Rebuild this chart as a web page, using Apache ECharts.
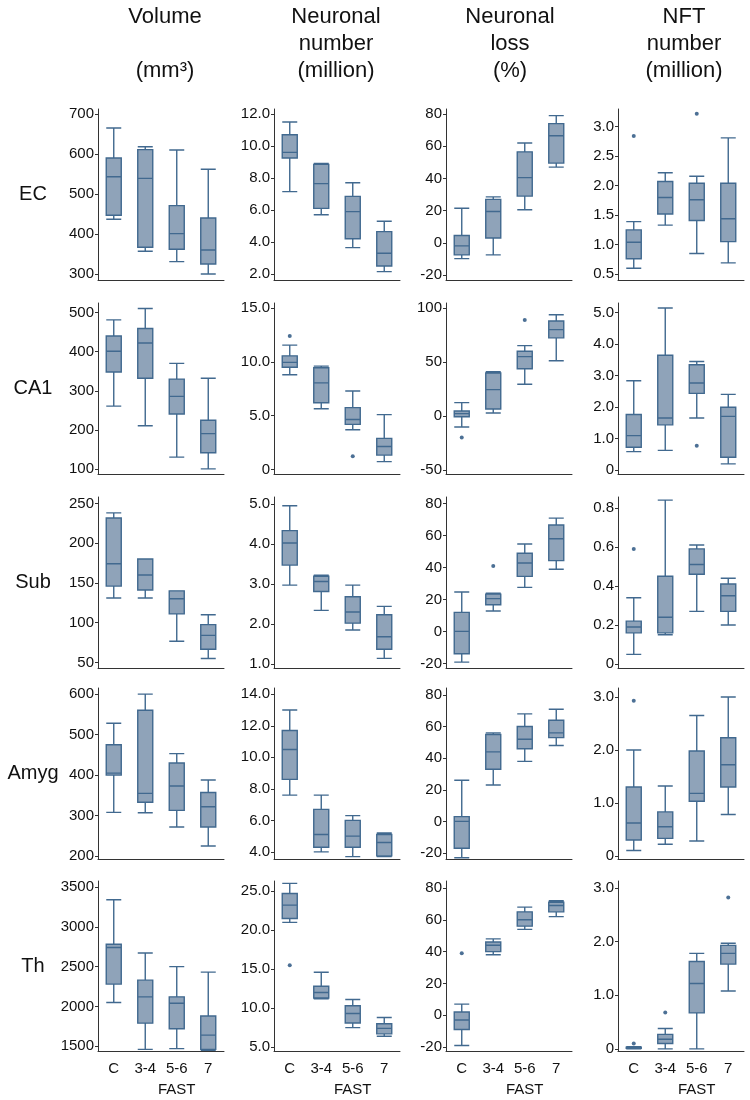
<!DOCTYPE html>
<html><head><meta charset="utf-8">
<script src="https://cdn.jsdelivr.net/npm/echarts@6/dist/echarts.min.js"></script>
<style>html,body{margin:0;padding:0;background:#fff}#c{width:750px;height:1100px}</style>
</head><body><div id="c"></div>
<script>
// ---------- DATA ----------
const categories = ['C', '3-4', '5-6', '7'];
const regions = ['EC', 'CA1', 'Sub', 'Amyg', 'Th'];
const measures = ['Volume\n\n(mm³)', 'Neuronal\nnumber\n(million)', 'Neuronal\nloss\n(%)', 'NFT\nnumber\n(million)'];

// each box: [min, Q1, median, Q3, max]; outliers: [categoryIndex, value]
const volEC  = [[437,447,543,590,665],[357,367,539,611,618],[331,362,401,471,610],[300,325,360,440,562]];
const nnEC   = [[7.15,9.25,9.6,10.7,11.5],[5.7,6.1,7.65,8.85,8.9],[3.65,4.2,5.9,6.85,7.7],[2.15,2.5,3.3,4.65,5.3]];
const lossEC = [[-9.8,-7.5,-1.9,4.5,21.5],[-7.5,3,19.4,27,28.5],[20.5,29,40.5,56.5,62],[47,49.5,66.5,74,79]];
const nftEC  = [[0.6,0.76,1.04,1.25,1.39],[1.33,1.52,1.8,2.07,2.22],[0.85,1.41,1.76,2.04,2.16],[0.69,1.05,1.44,2.04,2.81]];
const nftECOut = [[0,2.84],[2,3.22]];

const volCA1  = [[261,348,401,440,481],[211,332,422,459,510],[131,241,286,330,370],[101,142,191,225,332]];
const nnCA1   = [[8.8,9.5,9.95,10.55,11.55],[5.65,6.2,8.05,9.45,9.6],[3.7,4.2,4.65,5.75,7.3],[0.75,1.35,2.15,2.9,5.1]];
const nnCA1Out = [[0,12.4],[2,1.25]];
const lossCA1 = [[-10.2,-0.6,2.2,4.7,12.4],[2.8,6.5,24.5,39.8,41],[29.5,43.8,55,60,65.2],[51.2,72.4,80,88,93.8]];
const lossCA1Out = [[0,-19.9],[2,89]];
const nftCA1  = [[0.58,0.72,1.09,1.76,2.83],[0.62,1.43,1.65,3.64,5.14],[1.65,2.43,2.76,3.34,3.44],[0.19,0.4,1.7,1.99,2.4]];
const nftCA1Out = [[2,0.77]];

const volSub  = [[131,146,174,231.6,238],[131,141,160,180,180],[76.6,111,130,140,140],[55,66.5,84,97.5,110]];
const nnSub   = [[2.97,3.47,4.02,4.33,4.95],[2.34,2.81,3.06,3.19,3.22],[1.85,2.02,2.3,2.68,2.97],[1.14,1.37,1.68,2.23,2.44]];
const lossSub = [[-19,-13.8,0.2,12.1,24.8],[12.9,16.8,20.7,23.5,24],[27.7,34.6,42.9,49,54.8],[39,44.4,58.1,66.7,71]];
const lossSubOut = [[1,41]];
const nftSub  = [[0.05,0.16,0.19,0.22,0.34],[0.15,0.16,0.24,0.45,0.84],[0.27,0.46,0.51,0.59,0.61],[0.2,0.27,0.35,0.41,0.44]];
const nftSubOut = [[0,0.59]];

const volAmyg  = [[308,400,405,475,528],[307,333,355,560,600],[272,313,373,430,453],[225,272,322,357,388]];
const nnAmyg   = [[7.6,8.6,10.5,11.7,13.0],[4.0,4.3,5.1,6.7,7.6],[3.7,4.3,5.0,6.0,6.3],[3.7,3.75,4.6,5.1,5.2]];
const lossAmyg = [[-23,-17,0,3,26],[23,33,44,55,56],[38,46,52,60,68],[48,53,56,64,71]];
const nftAmyg  = [[0.1,0.3,0.62,1.3,2.0],[0.22,0.33,0.55,0.83,1.32],[0.28,1.03,1.18,1.98,2.65],[0.78,1.3,1.72,2.23,3.0]];
const nftAmygOut = [[0,2.93]];

const volTh  = [[2050,2280,2740,2780,3340],[1460,1790,2120,2330,2670],[1470,1720,2040,2120,2500],[1450,1460,1640,1880,2430]];
const nnTh   = [[21.0,21.5,23.2,24.7,26.0],[11.2,11.3,12.0,12.8,14.6],[7.5,8.1,9.3,10.3,11.1],[6.4,6.7,7.4,8.0,8.8]];
const nnThOut = [[0,15.5]];
const lossTh = [[-19,-9,-3,2,7],[38,40,44,46,48],[54,56,60,65,68],[62,65,69,71,72]];
const lossThOut = [[0,39]];
const nftTh  = [[0,0.01,0.02,0.03,0.04],[0,0.1,0.18,0.27,0.38],[0,0.67,1.22,1.63,1.78],[1.08,1.58,1.78,1.93,1.97]];
const nftThOut = [[0,0.1],[1,0.68],[3,2.82]];

// tick labels per panel
const ticksVolEC = [300,400,500,600,700];
const ticksNnEC = [2,4,6,8,10,12];
const ticksLoss = [-20,0,20,40,60,80];
const ticksNftEC = [0.5,1,1.5,2,2.5,3];
const ticksVolCA1 = [100,200,300,400,500];
const ticksNnCA1 = [0,5,10,15];
const ticksLossCA1 = [-50,0,50,100];
const ticksNftCA1 = [0,1,2,3,4,5];
const ticksVolSub = [50,100,150,200,250];
const ticksNnSub = [1,2,3,4,5];
const ticksNftSub = [0,0.2,0.4,0.6,0.8];
const ticksVolAmyg = [200,300,400,500,600];
const ticksNnAmyg = [4,6,8,10,12,14];
const ticksNftAmyg = [0,1,2,3];
const ticksVolTh = [1500,2000,2500,3000,3500];
const ticksNnTh = [5,10,15,20,25];
const ticksNftTh = [0,1,2,3];

// ---------- PANEL CONFIG ----------
const panels = [
  [ {d:volEC, o:[], t:ticksVolEC, dec:0, min:285, max:712.5},
    {d:nnEC, o:[], t:ticksNnEC, dec:1, min:1.625, max:12.31},
    {d:lossEC, o:[], t:ticksLoss, dec:0, min:-23.1, max:83.1},
    {d:nftEC, o:nftECOut, t:ticksNftEC, dec:1, min:0.40, max:3.3} ],
  [ {d:volCA1, o:[], t:ticksVolCA1, dec:0, min:88, max:524},
    {d:nnCA1, o:nnCA1Out, t:ticksNnCA1, dec:1, min:-0.4, max:15.45},
    {d:lossCA1, o:lossCA1Out, t:ticksLossCA1, dec:0, min:-53.7, max:104.7},
    {d:nftCA1, o:nftCA1Out, t:ticksNftCA1, dec:1, min:-0.13, max:5.3} ],
  [ {d:volSub, o:[], t:ticksVolSub, dec:0, min:43, max:258},
    {d:nnSub, o:[], t:ticksNnSub, dec:1, min:0.9, max:5.17},
    {d:lossSub, o:lossSubOut, t:ticksLoss, dec:0, min:-22.7, max:84.2},
    {d:nftSub, o:nftSubOut, t:ticksNftSub, dec:1, min:-0.02, max:0.856} ],
  [ {d:volAmyg, o:[], t:ticksVolAmyg, dec:0, min:193, max:615},
    {d:nnAmyg, o:[], t:ticksNnAmyg, dec:1, min:3.55, max:14.4},
    {d:lossAmyg, o:[], t:ticksLoss, dec:0, min:-23.8, max:84.4},
    {d:nftAmyg, o:nftAmygOut, t:ticksNftAmyg, dec:1, min:-0.06, max:3.17} ],
  [ {d:volTh, o:[], t:ticksVolTh, dec:0, min:1440, max:3575},
    {d:nnTh, o:nnThOut, t:ticksNnTh, dec:1, min:4.5, max:26.3},
    {d:lossTh, o:lossThOut, t:ticksLoss, dec:0, min:-22.5, max:84.4},
    {d:nftTh, o:nftThOut, t:ticksNftTh, dec:1, min:-0.04, max:3.13} ]
];

const colLeft = [98, 274, 446, 618];
const titleCenter = [165, 336, 510, 684];
const rowTop = [109, 303, 497, 688, 881];
const gw = 126, gh = 171;
const FONT = '"Liberation Sans", Arial, sans-serif';
const BOX_FILL = '#8fa3b9', BOX_LINE = '#41698f', DOT = '#1f4c7a', AXIS = '#333333';

const grid = [], xAxis = [], yAxis = [], series = [], title = [];
let idx = 0;
panels.forEach((row, r) => {
  row.forEach((p, c) => {
    grid.push({left: colLeft[c], top: rowTop[r], width: gw, height: gh, containLabel: false});
    const bottom = r === panels.length - 1;
    xAxis.push({
      type: 'category', gridIndex: idx, data: categories, boundaryGap: true,
      axisLine: {show: true, onZero: false, lineStyle: {color: AXIS, width: 1}},
      axisTick: {show: false},
      axisLabel: {show: bottom, interval: 0, hideOverlap: false, color: '#111', fontFamily: FONT, fontSize: 15,
                  margin: 7, lineHeight: 21,
                  formatter: v => v === '5-6' ? '5-6\nFAST' : v},
      splitLine: {show: false}
    });
    const dec = p.dec;
    yAxis.push({
      type: 'value', gridIndex: idx, min: p.min, max: p.max,
      axisLine: {show: true, onZero: false, lineStyle: {color: AXIS, width: 1}},
      axisTick: {show: true, length: 3, lineStyle: {color: AXIS}, customValues: p.t},
      axisLabel: {show: true, color: '#111', fontFamily: FONT, fontSize: 15, margin: 4,
                  customValues: p.t, formatter: v => v === 0 ? '0' : Number(v).toFixed(dec)},
      splitLine: {show: false}
    });
    series.push({
      type: 'boxplot', xAxisIndex: idx, yAxisIndex: idx, data: p.d,
      boxWidth: [15, 15], silent: true,
      itemStyle: {color: BOX_FILL, borderColor: BOX_LINE, borderWidth: 1.4},
      emphasis: {disabled: true}
    });
    if (p.o.length) {
      series.push({
        type: 'scatter', xAxisIndex: idx, yAxisIndex: idx, data: p.o,
        symbol: 'circle', symbolSize: 4, silent: true,
        itemStyle: {color: DOT}
      });
    }
    idx++;
  });
});

measures.forEach((m, c) => {
  title.push({text: m, left: titleCenter[c], top: 3, textAlign: 'center', padding: 0,
    textStyle: {fontFamily: FONT, fontSize: 22, fontWeight: 'normal', color: '#111', lineHeight: 27}});
});
regions.forEach((name, r) => {
  title.push({text: name, left: 33, top: rowTop[r] + gh / 2 - 10, textAlign: 'center', padding: 0,
    textStyle: {fontFamily: FONT, fontSize: 20, fontWeight: 'normal', color: '#111'}});
});

const chart = echarts.init(document.getElementById('c'), null, {renderer: 'canvas'});
chart.setOption({animation: false, backgroundColor: '#fff', title, grid, xAxis, yAxis, series});
</script>
</body></html>
